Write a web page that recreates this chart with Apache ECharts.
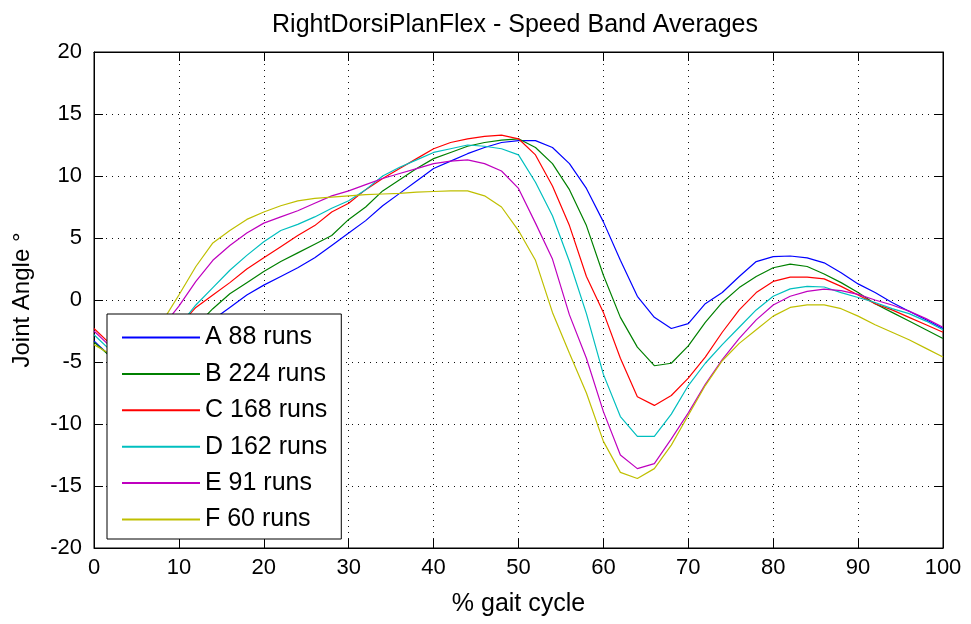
<!DOCTYPE html>
<html>
<head>
<meta charset="utf-8">
<script src="https://cdn.jsdelivr.net/npm/echarts@6/dist/echarts.min.js"></script>
<style>
html,body{margin:0;padding:0;background:#fff;}
#chart{width:971px;height:624px;}
</style>
</head>
<body>
<div id="chart"></div>
<script>
var xs = [0,2,4,6,8,10,12,14,16,18,20,22,24,26,28,30,32,34,36,38,40,42,44,46,48,50,52,54,56,58,60,62,64,66,68,70,72,74,76,78,80,82,84,86,88,90,92,94,96,98,100];

var seriesNames = ['A 88 runs','B 224 runs','C 168 runs','D 162 runs','E 91 runs','F 60 runs'];

var A = [-3.3,-4.6,-5.3,-5.4,-5.0,-4.3,-3.0,-1.6,-0.6,0.4,1.2,1.9,2.6,3.4,4.4,5.4,6.4,7.6,8.6,9.6,10.6,11.2,11.8,12.3,12.7,12.85,12.85,12.3,11.0,9.0,6.3,3.2,0.3,-1.4,-2.3,-1.9,-0.3,0.6,1.9,3.1,3.5,3.55,3.4,3.0,2.2,1.3,0.6,-0.2,-0.9,-1.6,-2.3];
var B = [-3.4,-4.6,-5.2,-5.1,-4.4,-3.3,-2.1,-0.7,0.5,1.4,2.3,3.1,3.8,4.5,5.2,6.5,7.5,8.8,9.7,10.6,11.4,11.9,12.4,12.7,12.9,13.0,12.3,11.0,8.9,6.0,2.0,-1.4,-3.8,-5.3,-5.1,-3.7,-1.8,-0.2,1.0,1.9,2.6,2.9,2.7,2.1,1.4,0.6,-0.3,-1.0,-1.7,-2.4,-3.1];
var C = [-2.3,-3.6,-4.4,-4.4,-3.5,-2.1,-0.6,0.4,1.4,2.5,3.4,4.3,5.2,6.0,7.1,7.8,8.9,9.8,10.6,11.4,12.2,12.7,13.0,13.2,13.3,13.0,11.7,9.2,6.0,1.9,-1.0,-4.7,-7.8,-8.5,-7.7,-6.3,-4.6,-2.6,-0.8,0.6,1.5,1.85,1.85,1.7,1.1,0.4,-0.3,-0.8,-1.4,-2.0,-2.6];
var D = [-2.8,-4.1,-4.8,-4.5,-3.5,-2.1,-0.4,1.0,2.4,3.6,4.7,5.6,6.1,6.7,7.4,8.0,8.9,10.0,10.7,11.3,11.9,12.2,12.5,12.4,12.2,11.7,9.5,6.8,3.1,-1.1,-6.0,-9.4,-11.0,-11.0,-9.2,-6.9,-5.1,-3.6,-2.2,-0.8,0.3,0.9,1.1,1.05,0.6,0.2,-0.2,-0.7,-1.1,-1.7,-2.4];
var E = [-2.5,-3.8,-4.3,-3.7,-2.2,-0.5,1.5,3.2,4.4,5.4,6.2,6.7,7.2,7.8,8.4,8.8,9.3,9.8,10.2,10.6,11.0,11.2,11.3,11.0,10.4,9.0,6.2,3.3,-1.2,-4.7,-9.0,-12.5,-13.6,-13.2,-11.2,-9.1,-6.8,-4.8,-3.1,-1.6,-0.4,0.3,0.7,0.88,0.75,0.45,0.0,-0.4,-0.9,-1.5,-2.2];
var F = [-3.6,-4.4,-4.7,-3.9,-1.8,0.4,2.7,4.6,5.6,6.5,7.1,7.6,8.0,8.2,8.3,8.4,8.5,8.55,8.6,8.7,8.75,8.8,8.8,8.4,7.5,5.6,3.2,-1.0,-4.3,-7.5,-11.4,-13.9,-14.4,-13.6,-11.7,-9.3,-6.9,-4.9,-3.5,-2.4,-1.3,-0.6,-0.4,-0.4,-0.7,-1.3,-2.0,-2.6,-3.2,-3.9,-4.6];

var colors = ['#0000ff','#008000','#ff0000','#00bfbf','#bf00bf','#bfbf00'];
var values = [A,B,C,D,E,F];

var xTicks = [0,10,20,30,40,50,60,70,80,90,100];
var yTicks = [-20,-15,-10,-5,0,5,10,15,20];

var FONT = '"Liberation Sans", Arial, sans-serif';

function pairs(v){ return xs.map(function(x,i){ return [x, v[i]]; }); }

var series = values.map(function(v,i){
  return {
    name: seriesNames[i],
    type: 'line',
    data: pairs(v),
    symbol: 'none',
    smooth: false,
    lineStyle: {color: colors[i], width: 1.2},
    itemStyle: {color: colors[i]},
    xAxisIndex: 0, yAxisIndex: 0,
    animation: false
  };
});

var chart = echarts.init(document.getElementById('chart'), null, {renderer:'canvas'});
chart.setOption({
  backgroundColor: '#ffffff',
  animation: false,
  title: {
    text: 'RightDorsiPlanFlex - Speed Band Averages',
    left: 510, top: 8, textAlign: 'center',
    textStyle: {fontFamily: FONT, fontSize: 25, fontWeight: 'normal', color: '#000'}
  },
  grid: {left: 94, right: 28, top: 52, bottom: 76, show: true, borderColor: '#000', borderWidth: 1, backgroundColor: '#fff'},
  legend: {
    orient: 'vertical', left: 107, top: 314,
    backgroundColor: '#fff', borderColor: '#000', borderWidth: 1,
    padding: [11, 14, 7, 15], itemGap: 11.4,
    itemWidth: 78, itemHeight: 2, icon: 'rect',
    textStyle: {fontFamily: FONT, fontSize: 25, color: '#000'},
    data: seriesNames
  },
  xAxis: [{
    type: 'value', min: 0, max: 100, interval: 10,
    name: '% gait cycle', nameLocation: 'middle', nameGap: 44,
    nameTextStyle: {fontFamily: FONT, fontSize: 25, color: '#000'},
    axisLine: {show: true, onZero: false, lineStyle: {color: '#000', width: 1}},
    axisTick: {show: true, inside: true, length: 9, lineStyle: {color: '#000'}},
    axisLabel: {fontFamily: FONT, fontSize: 22, color: '#000', margin: 9,
      formatter: function(v){ return xTicks.indexOf(v) >= 0 ? String(v) : ''; }},
    splitLine: {show: true, lineStyle: {color: '#111', width: 1, type: [1, 5]}}
  },{
    type: 'value', min: 0, max: 100, interval: 10, position: 'top',
    axisLine: {show: true, onZero: false, lineStyle: {color: '#000', width: 1}},
    axisTick: {show: true, inside: true, length: 9, lineStyle: {color: '#000'}},
    axisLabel: {show: false}, splitLine: {show: false}
  }],
  yAxis: [{
    type: 'value', min: -20, max: 20, interval: 5,
    name: 'Joint Angle °', nameLocation: 'middle', nameGap: 60,
    nameTextStyle: {fontFamily: FONT, fontSize: 24, color: '#000'},
    axisLine: {show: true, onZero: false, lineStyle: {color: '#000', width: 1}},
    axisTick: {show: true, inside: true, length: 9, lineStyle: {color: '#000'}},
    axisLabel: {fontFamily: FONT, fontSize: 22, color: '#000', margin: 12,
      formatter: function(v){ return yTicks.indexOf(v) >= 0 ? String(v) : ''; }},
    splitLine: {show: true, lineStyle: {color: '#111', width: 1, type: [1, 5]}}
  },{
    type: 'value', min: -20, max: 20, interval: 5, position: 'right',
    axisLine: {show: true, onZero: false, lineStyle: {color: '#000', width: 1}},
    axisTick: {show: true, inside: true, length: 9, lineStyle: {color: '#000'}},
    axisLabel: {show: false}, splitLine: {show: false}
  }],
  series: series
});
</script>
</body>
</html>
